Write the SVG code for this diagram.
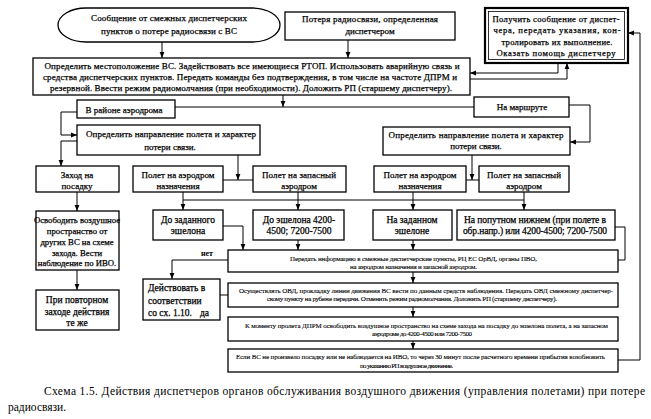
<svg xmlns="http://www.w3.org/2000/svg" width="651" height="419" viewBox="0 0 651 419">
<defs>
<marker id="ah" markerWidth="6" markerHeight="6" refX="6" refY="3" orient="auto" markerUnits="userSpaceOnUse"><path d="M0,0.6 L6,3 L0,5.4 z" fill="#000"/></marker>
<style>
.b{fill:#fff;stroke:#000;stroke-width:1.3}
.c{fill:none;stroke:#000;stroke-width:1}
.a{marker-end:url(#ah)}
text{font-family:"Liberation Serif","Times New Roman",serif;fill:#000}
.t{font-size:9px;text-anchor:middle;stroke:#000;stroke-width:0.25}
.l{font-size:9.5px;stroke:#000;stroke-width:0.25}
.s{font-size:7px;stroke:#000;stroke-width:0.1}
.cap{font-size:11.5px}
</style>
</defs>
<rect width="651" height="419" fill="#fff"/>

<g id="connectors">
<path class="c a" d="M162,42 V58"/>
<path class="c a" d="M348,40 V58"/>
<path class="c a" d="M558,63 V73 H470"/>
<path class="c a" d="M470,79 H567 V63"/>
<path class="c a" d="M283,95 V107"/>
<path class="c" d="M175,107 H474"/>
<path class="c a" d="M77,112 H61 V135 H77"/>
<path class="c a" d="M77,141 H61 V166"/>
<path class="c a" d="M238,155 V180"/>
<path class="c" d="M223,180 H253"/>
<path class="c a" d="M569,105 H590 V142 H570"/>
<path class="c a" d="M472,155 V180"/>
<path class="c" d="M466,180 H479"/>
<path class="c a" d="M77,192 V211"/>
<path class="c a" d="M77,270 V290"/>
<path class="c" d="M183,200 H524"/>
<path class="c a" d="M183,192 V210"/>
<path class="c a" d="M298,192 V210"/>
<path class="c a" d="M413,192 V210"/>
<path class="c a" d="M524,192 V210"/>
<path class="c a" d="M223,226 H243 V250"/>
<path class="c a" d="M298,240 V250"/>
<path class="c a" d="M413,240 V250"/>
<path class="c" d="M615,227 H625 V260 H618"/>
<path class="c a" d="M228,260 H172 V279"/>
<path class="c" d="M220,295 H228"/>
<path class="c a" d="M413,272 V283"/>
<path class="c a" d="M413,307 V317"/>
<path class="c a" d="M413,341 V349"/>
<path class="c a" d="M618,360 H640 V33 H628"/>
<text x="207" y="256" style="font-size:8px;font-weight:bold;text-anchor:middle">нет</text>
</g>

<g id="n_msg">
<rect class="b" x="58" y="8" width="222" height="34" rx="28" ry="17"/>
<text class="t" x="169" y="21" textLength="156">Сообщение от смежных диспетчерских</text>
<text class="t" x="169" y="33.5" textLength="136">пунктов о потере радиосвязи с ВС</text>
</g>

<g id="n_loss">
<rect class="b" x="285" y="12" width="170" height="28"/>
<text class="t" x="370" y="22" textLength="136">Потеря радиосвязи, определенная</text>
<text class="t" x="370" y="34">диспетчером</text>
</g>

<g id="n_rp">
<rect x="485" y="8" width="143" height="55" fill="#fff" stroke="#000" stroke-width="2.2"/>
<rect x="488.5" y="11.5" width="136" height="48" fill="none" stroke="#000" stroke-width="0.8"/>
<text class="t" x="556" y="21.5" textLength="127" style="font-size:8.6px">Получить сообщение от диспет-</text>
<text class="t" x="557" y="33" textLength="127" style="font-size:8.6px">чера, передать указания, кон-</text>
<text class="t" x="557" y="44.5" textLength="111" style="font-size:8.6px">тролировать их выполнение.</text>
<text class="t" x="556" y="56" textLength="119" style="font-size:8.6px">Оказать помощь диспетчеру</text>
</g>

<g id="n_main">
<rect class="b" x="33" y="58" width="437" height="37"/>
<text class="t" x="252" y="69" textLength="415">Определить местоположение ВС. Задействовать все имеющиеся РТОП. Использовать аварийную связь и</text>
<text class="t" x="250" y="80" textLength="414">средства диспетчерских пунктов. Передать команды без подтверждения, в том числе на частоте ДПРМ и</text>
<text class="t" x="251" y="91" textLength="402">резервной. Ввести режим радиомолчания (при необходимости). Доложить РП (старшему диспетчеру).</text>
</g>

<g id="n_aero">
<rect class="b" x="77" y="100" width="98" height="18"/>
<text class="t" x="124" y="112.5" textLength="77">В районе аэродрома</text>
</g>

<g id="n_route">
<rect class="b" x="474" y="97" width="95" height="20"/>
<text class="t" x="522" y="110">На маршруте</text>
</g>

<g id="n_dir1">
<rect class="b" x="77" y="125" width="183" height="30"/>
<text class="t" x="171" y="137" textLength="170">Определить направление полета и характер</text>
<text class="t" x="170" y="149.5">потери связи.</text>
</g>

<g id="n_dir2">
<rect class="b" x="383" y="127" width="187" height="28"/>
<text class="t" x="476" y="137.5" textLength="175">Определить направление полета и характер</text>
<text class="t" x="476" y="149">потери связи.</text>
</g>

<g id="n_landing">
<rect class="b" x="36" y="166" width="83" height="26"/>
<text class="t" x="77" y="177.5">Заход на</text>
<text class="t" x="77" y="189">посадку</text>
</g>

<g id="n_dest1">
<rect class="b" x="133" y="166" width="90" height="26"/>
<text class="t" x="178" y="177.5" textLength="73">Полет на аэродром</text>
<text class="t" x="178" y="189">назначения</text>
</g>

<g id="n_alt1">
<rect class="b" x="253" y="166" width="93" height="26"/>
<text class="t" x="299" y="177.5" textLength="74">Полет на запасный</text>
<text class="t" x="299" y="189">аэродром</text>
</g>

<g id="n_dest2">
<rect class="b" x="374" y="166" width="92" height="26"/>
<text class="t" x="420" y="177.5" textLength="73">Полет на аэродром</text>
<text class="t" x="420" y="189">назначения</text>
</g>

<g id="n_alt2">
<rect class="b" x="479" y="166" width="90" height="26"/>
<text class="t" x="524" y="177.5" textLength="74">Полет на запасный</text>
<text class="t" x="524" y="189">аэродром</text>
</g>

<g id="n_free">
<rect class="b" x="36" y="211" width="83" height="59"/>
<text class="t" x="77" y="223" style="font-size:8.7px">Освободить воздушное</text>
<text class="t" x="77" y="234" style="font-size:8.7px">пространство от</text>
<text class="t" x="77" y="245" style="font-size:8.7px">других ВС на схеме</text>
<text class="t" x="77" y="255.5" style="font-size:8.7px">захода. Вести</text>
<text class="t" x="77" y="266" style="font-size:8.7px">наблюдение по ИВО.</text>
</g>

<g id="n_repeat">
<rect class="b" x="36" y="290" width="83" height="40"/>
<text class="t" x="77" y="303" style="font-size:9.5px">При повторном</text>
<text class="t" x="77" y="315" style="font-size:9.5px">заходе действия</text>
<text class="t" x="77" y="326" style="font-size:9.5px">те же</text>
</g>

<g id="n_lvl1">
<rect class="b" x="153" y="210" width="70" height="30"/>
<text class="t" x="188" y="223" style="font-size:9.5px">До заданного</text>
<text class="t" x="188" y="234" style="font-size:9.5px">эшелона</text>
</g>

<g id="n_lvl2">
<rect class="b" x="253" y="210" width="91" height="30"/>
<text class="t" x="299" y="223" style="font-size:9.5px">До эшелона 4200-</text>
<text class="t" x="299" y="234" style="font-size:9.5px">4500; 7200-7500</text>
</g>

<g id="n_lvl3">
<rect class="b" x="373" y="210" width="79" height="30"/>
<text class="t" x="412" y="223" style="font-size:9.5px">На заданном</text>
<text class="t" x="412" y="234" style="font-size:9.5px">эшелоне</text>
</g>

<g id="n_lvl4">
<rect class="b" x="457" y="210" width="158" height="30"/>
<text class="t" x="535" y="223" textLength="142" style="font-size:9.5px">На попутном нижнем (при полете в</text>
<text class="t" x="535" y="234" textLength="144" style="font-size:9.5px">обр.напр.) или 4200-4500; 7200-7500</text>
</g>

<g id="n_inform">
<rect class="b" x="228" y="250" width="390" height="22"/>
<text class="s" x="290" y="261" textLength="247">Передать информацию в смежные диспетчерские пункты, РЦ ЕС ОрВД, органы ПВО,</text>
<text class="s" x="350" y="269" textLength="127">на аэродром назначения и запасной аэродром.</text>
</g>

<g id="n_act">
<rect class="b" x="143" y="279" width="77" height="41"/>
<text class="l" x="148" y="291">Действовать в</text>
<text class="l" x="148" y="303.5">соответствии</text>
<text class="l" x="148" y="316">со сх. 1.10.</text>
<text class="l" x="200" y="316">да</text>
</g>

<g id="n_atc">
<rect class="b" x="228" y="283" width="390" height="24"/>
<text class="s" x="239" y="292.5" textLength="374">Осуществлять ОВД, прокладку линии движения ВС вести по данным средств наблюдения. Передать ОВД смежному диспетчер-</text>
<text class="s" x="267" y="301" textLength="290">скому пункту на рубеже передачи. Отменить режим радиомолчания. Доложить РП (старшему диспетчеру).</text>
</g>

<g id="n_dprm">
<rect class="b" x="228" y="317" width="390" height="24"/>
<text class="s" x="245" y="327.5" textLength="363">К моменту пролета ДПРМ освободить воздушное пространство на схеме захода на посадку до эшелона полета, а на запасном</text>
<text class="s" x="372" y="336" textLength="100">аэродроме до 4200-4500 или 7200-7500</text>
</g>

<g id="n_resume">
<rect class="b" x="228" y="349" width="390" height="23"/>
<text class="s" x="236" y="359" textLength="369">Если ВС не произвело посадку или не наблюдается на ИВО, то через 30 минут после расчетного времени прибытия возобновить</text>
<text class="s" x="360" y="367.5" textLength="93">по указанию РП воздушное движение.</text>
</g>

<g id="caption">
<text class="cap" x="44" y="395" textLength="601" lengthAdjust="spacing">Схема 1.5. Действия диспетчеров органов обслуживания воздушного движения (управления полетами) при потере</text>
<text class="cap" x="8" y="411">радиосвязи.</text>
</g>
</svg>
